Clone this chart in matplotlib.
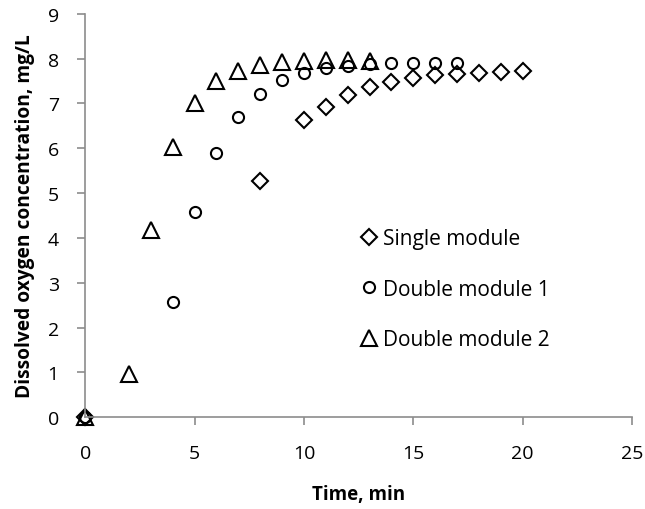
import matplotlib.pyplot as plt

plt.rcParams['font.family'] = ['Open Sans', 'DejaVu Sans']

# single module
t_single = [0, 8, 10, 11, 12, 13, 14, 15, 16, 17, 18, 19, 20]
do_single = [0, 5.28, 6.62, 6.93, 7.19, 7.37, 7.48, 7.56, 7.63, 7.65, 7.69, 7.70, 7.73]

# double module 1
t_double1 = [0, 4, 5, 6, 7, 8, 9, 10, 11, 12, 13, 14, 15, 16, 17]
do_double1 = [0, 2.57, 4.57, 5.90, 6.70, 7.20, 7.52, 7.67, 7.78, 7.83, 7.87, 7.90, 7.91, 7.91, 7.91]

# double module 2
t_double2 = [0, 2, 3, 4, 5, 6, 7, 8, 9, 10, 11, 12, 13]
do_double2 = [0, 0.97, 4.17, 6.03, 7.00, 7.50, 7.73, 7.85, 7.92, 7.95, 7.97, 7.97, 7.95]

fig = plt.figure(figsize=(6.45, 5.1), dpi=100)
ax = fig.add_axes([0.132, 0.180, 0.848, 0.791])

ax.plot(t_single, do_single, 'D', ms=8, mfc='white', mec='black', mew=1.5, ls='none',
        clip_on=False, label='Single module')
ax.plot(t_double1, do_double1, 'o', ms=8, mfc='none', mec='black', mew=1.5, ls='none',
        clip_on=False, label='Double module 1')
ax.plot(t_double2, do_double2, '^', ms=11, mfc='none', mec='black', mew=1.5, ls='none',
        clip_on=False, label='Double module 2')

ax.set_xlim(0, 25)
ax.set_ylim(0, 9)
ax.set_xticks([0, 5, 10, 15, 20, 25])
ax.set_yticks(range(10))
ax.set_xlabel('Time, min', fontsize=13.5, fontweight='bold', labelpad=16)
ax.set_ylabel('Dissolved oxygen concentration, mg/L', fontsize=13.8, fontweight='bold', labelpad=9)

for s in ['top', 'right']:
    ax.spines[s].set_visible(False)
for s in ['left', 'bottom']:
    ax.spines[s].set_color('#8c8c8c')
    ax.spines[s].set_linewidth(1.2)
ax.tick_params(direction='out', length=6, width=1.2, color='#8c8c8c', labelsize=14, pad=13)

ax.legend(loc='upper left', bbox_to_anchor=(0.466, 0.515), frameon=False, fontsize=15,
          handletextpad=0.2, handlelength=0.95, labelspacing=1.42)

plt.savefig('out.png', dpi=100)
